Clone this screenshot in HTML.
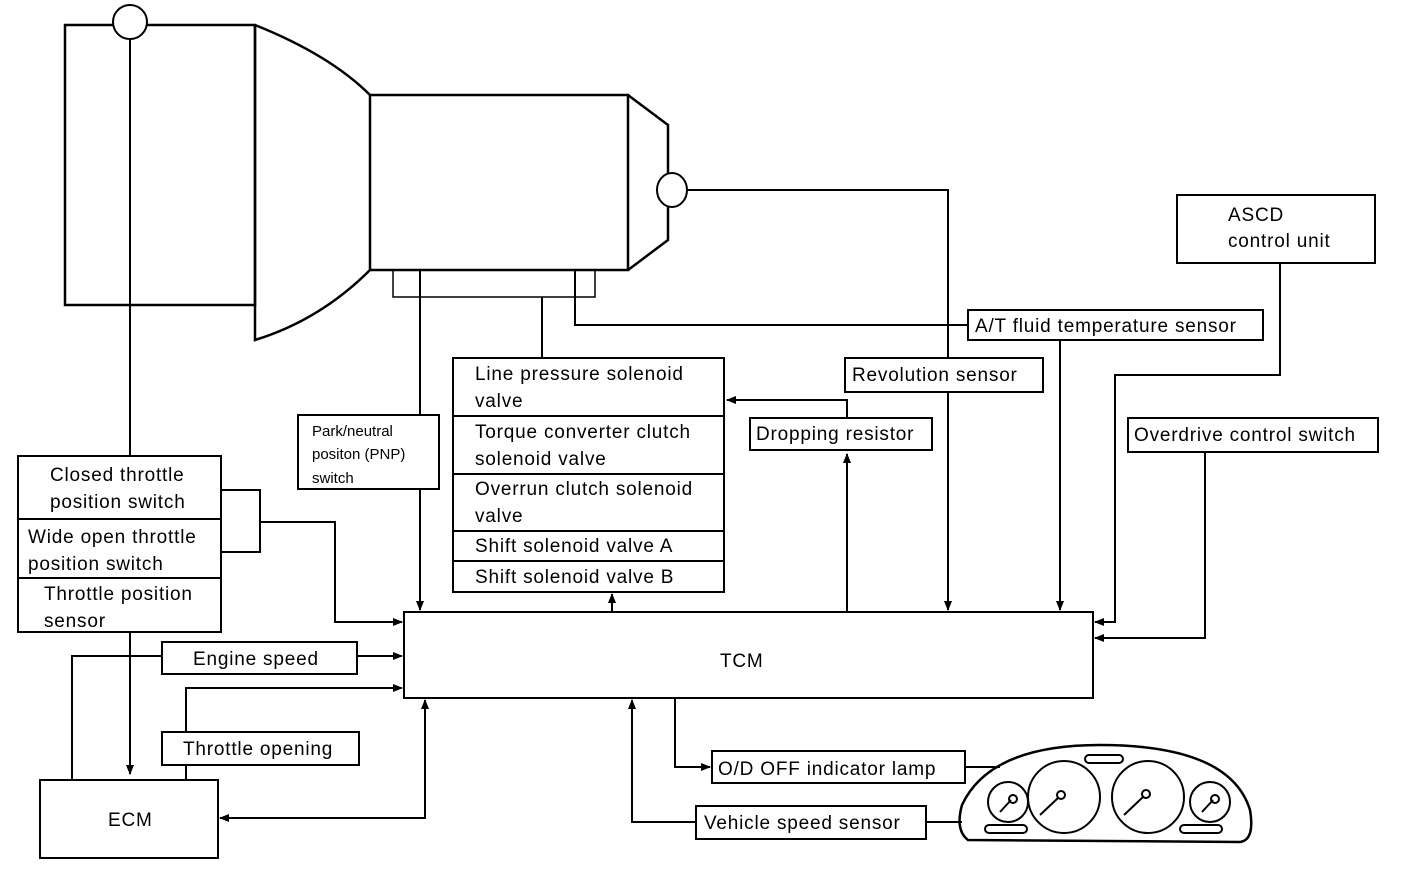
<!DOCTYPE html>
<html><head><style>
body{margin:0;background:#fff}
svg{display:block}
text{font-family:"Liberation Sans",sans-serif;font-size:19px;fill:#000;letter-spacing:0.8px}
.s{font-size:15px;letter-spacing:0}
</style></head><body>
<svg width="1408" height="870" viewBox="0 0 1408 870" xmlns="http://www.w3.org/2000/svg">
<defs><marker id="a" markerWidth="10" markerHeight="8" refX="9" refY="4" orient="auto-start-reverse" markerUnits="userSpaceOnUse"><path d="M0,0L10,4L0,8z" fill="#000"/></marker></defs>
<g fill="none" stroke="#000" stroke-width="2">
<rect x="65" y="25" width="190" height="280" stroke-width="2.5"/>
<path d="M255,25 Q330,55 370,95 M370,270 Q320,320 255,340 L255,25" stroke-width="2.5"/>
<rect x="370" y="95" width="258" height="175" stroke-width="2.5"/>
<path d="M628,95 L668,125 L668,240 L628,270" stroke-width="2.5"/>
<circle cx="130" cy="22" r="17" fill="#fff"/>
<ellipse cx="672" cy="190" rx="15" ry="17" fill="#fff"/>
<rect x="393" y="270" width="202" height="27" stroke-width="1.5"/>
<path d="M130,39 V774" marker-end="url(#a)"/>
<path d="M688,190 H948 V610" marker-end="url(#a)"/>
<path d="M420,270 V610" marker-end="url(#a)"/>
<path d="M542,297 V358"/>
<path d="M575,270 V325 H968"/>
<path d="M1060,340 V610" marker-end="url(#a)"/>
<path d="M1280,263 V375 H1115 V622 H1095" marker-end="url(#a)"/>
<path d="M1205,452 V638 H1095" marker-end="url(#a)"/>
<path d="M847,612 V454" marker-end="url(#a)"/>
<path d="M847,418 V400 H727" marker-end="url(#a)"/>
<path d="M612,612 V594" marker-end="url(#a)"/>
<path d="M221,490 H260 V552 H221 M260,522 H335 V622 H402" marker-end="url(#a)"/>
<path d="M72,780 V656 H162 M357,656 H402" marker-end="url(#a)"/>
<path d="M186,732 V688 H402" marker-end="url(#a)"/>
<path d="M186,765 V780"/>
<path d="M425,700 V818 H220" marker-end="url(#a)" marker-start="url(#a)"/>
<path d="M675,698 V767 H710" marker-end="url(#a)"/>
<path d="M965,767 H1000"/>
<path d="M926,822 H962"/>
<path d="M696,822 H632 V700" marker-end="url(#a)"/>
<rect x="968" y="310" width="295" height="30" fill="#fff"/>
<rect x="845" y="358" width="198" height="34" fill="#fff"/>
<rect x="1177" y="195" width="198" height="68" fill="#fff"/>
<rect x="1128" y="418" width="250" height="34" fill="#fff"/>
<rect x="750" y="418" width="182" height="32" fill="#fff"/>
<rect x="453" y="358" width="271" height="234" fill="#fff"/>
<path d="M453,416H724M453,474H724M453,531H724M453,561H724"/>
<rect x="298" y="415" width="141" height="74" fill="#fff"/>
<rect x="18" y="456" width="203" height="176" fill="#fff"/>
<path d="M18,519H221M18,578H221"/>
<rect x="404" y="612" width="689" height="86" fill="#fff"/>
<rect x="162" y="642" width="195" height="32" fill="#fff"/>
<rect x="162" y="732" width="197" height="33" fill="#fff"/>
<rect x="40" y="780" width="178" height="78" fill="#fff"/>
<rect x="712" y="751" width="253" height="32" fill="#fff"/>
<rect x="696" y="806" width="230" height="33" fill="#fff"/>
<path d="M968,840 Q955,830 962,805 Q990,745 1100,745 Q1230,745 1250,810 Q1255,840 1240,842 Z" stroke-width="2.5"/>
<rect x="1085" y="755" width="38" height="8" rx="4"/>
<rect x="985" y="825" width="42" height="8" rx="4"/>
<rect x="1180" y="825" width="42" height="8" rx="4"/>
<circle cx="1008" cy="802" r="20"/><circle cx="1210" cy="802" r="20"/>
<circle cx="1064" cy="797" r="36"/><circle cx="1148" cy="797" r="36"/>
<path d="M1000,812 L1011,800 M1040,815 L1058,798 M1124,815 L1143,797 M1202,812 L1213,800"/>
<circle cx="1013" cy="799" r="4"/><circle cx="1061" cy="795" r="4"/><circle cx="1146" cy="794" r="4"/><circle cx="1215" cy="799" r="4"/>
</g>
<g>
<text x="975" y="332">A/T fluid temperature sensor</text>
<text x="852" y="381">Revolution sensor</text>
<text x="1228" y="221">ASCD</text>
<text x="1228" y="247">control unit</text>
<text x="1134" y="441">Overdrive control switch</text>
<text x="756" y="440">Dropping resistor</text>
<text x="475" y="380">Line pressure solenoid</text>
<text x="475" y="407">valve</text>
<text x="475" y="438">Torque converter clutch</text>
<text x="475" y="465">solenoid valve</text>
<text x="475" y="495">Overrun clutch solenoid</text>
<text x="475" y="522">valve</text>
<text x="475" y="552">Shift solenoid valve A</text>
<text x="475" y="583">Shift solenoid valve B</text>
<text class="s" x="312" y="436">Park/neutral</text>
<text class="s" x="312" y="459">positon (PNP)</text>
<text class="s" x="312" y="483">switch</text>
<text x="50" y="481">Closed throttle</text>
<text x="50" y="508">position switch</text>
<text x="28" y="543">Wide open throttle</text>
<text x="28" y="570">position switch</text>
<text x="44" y="600">Throttle position</text>
<text x="44" y="627">sensor</text>
<text x="720" y="667">TCM</text>
<text x="193" y="665">Engine speed</text>
<text x="183" y="755">Throttle opening</text>
<text x="108" y="826">ECM</text>
<text x="718" y="775">O/D OFF indicator lamp</text>
<text x="704" y="829">Vehicle speed sensor</text>
</g>
</svg>
</body></html>
